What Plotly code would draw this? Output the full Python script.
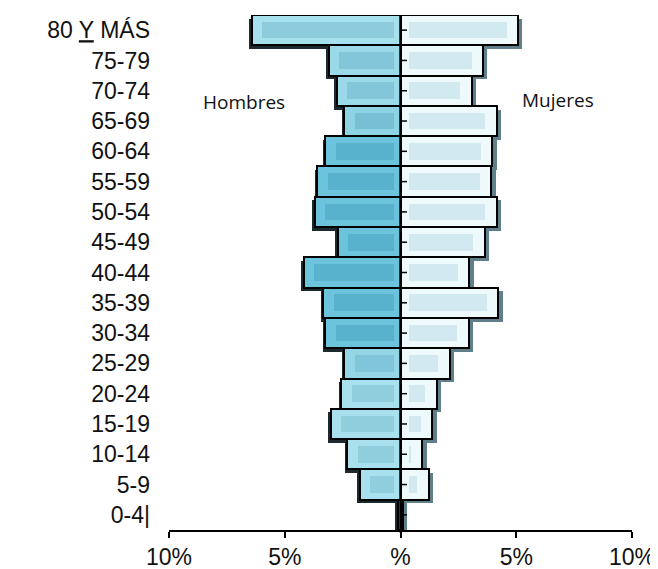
import plotly.graph_objects as go

# Data (bottom to top)
grupos = ["0-4|", "5-9", "10-14", "15-19", "20-24", "25-29", "30-34", "35-39",
          "40-44", "45-49", "50-54", "55-59", "60-64", "65-69", "70-74", "75-79", "80 Y MÁS"]
etiquetas = ["0-4|", "5-9", "10-14", "15-19", "20-24", "25-29", "30-34", "35-39",
             "40-44", "45-49", "50-54", "55-59", "60-64", "65-69", "70-74", "75-79",
             "80 <span style='text-decoration:underline'>Y</span> MÁS"]
hombres = [0.1, 1.77, 2.29, 3.02, 2.55, 2.42, 3.24, 3.33, 4.19, 2.72, 3.71, 3.59, 3.24, 2.42, 2.74, 3.09, 6.43]
mujeres = [0.1, 1.21, 0.95, 1.38, 1.56, 2.12, 2.94, 4.23, 2.98, 3.63, 4.15, 3.93, 3.97, 4.15, 3.09, 3.57, 5.08]
x_ticks = [-10, -5, 0, 5, 10]
x_ticktext = ["10%", "5%", "%", "5%", "10%"]

# Styles
light = ("#a8e0ed", "#90cddd")
mid = ("#94d6e6", "#80c5d9")
dark = ("#6cc3dc", "#59b2cd")
left_style = [light, light, light, light, light, mid, dark, dark, dark, dark, dark, dark, dark,
              ("#8ed3e4", "#78bfd5"), ("#9ad9e8", "#84c6d9"), ("#9ad9e8", "#84c6d9"), ("#a6e0ec", "#8ecbdc")]
left_edge = [s[0] for s in left_style]
left_inner = [s[1] for s in left_style]

fig = go.Figure()

# shadows
fig.add_trace(go.Bar(y=grupos, x=[-(v + 0.12) for v in hombres], orientation="h",
                     width=1, offset=-0.62, marker=dict(color="#1c2a30", line=dict(width=0)),
                     hoverinfo="skip", showlegend=False))
fig.add_trace(go.Bar(y=grupos, x=[v + 0.18 for v in mujeres], orientation="h",
                     width=1, offset=-0.62, marker=dict(color="#5f7f8b", line=dict(width=0)),
                     hoverinfo="skip", showlegend=False))

# main bars
fig.add_trace(go.Bar(y=grupos, x=[-v for v in hombres], orientation="h", width=1,
                     marker=dict(color=left_edge, line=dict(color="black", width=2)),
                     name="Hombres", hoverinfo="skip", showlegend=False))
fig.add_trace(go.Bar(y=grupos, x=mujeres, orientation="h", width=1,
                     marker=dict(color="#eef9fc", line=dict(color="black", width=2)),
                     name="Mujeres", hoverinfo="skip", showlegend=False))

# inner glow
fig.add_trace(go.Bar(y=grupos, x=[-max(v - 0.75, 0) for v in hombres], base=-0.3, orientation="h",
                     width=0.55, marker=dict(color=left_inner, line=dict(width=0)),
                     hoverinfo="skip", showlegend=False))
fig.add_trace(go.Bar(y=grupos, x=[max(v - 0.85, 0) for v in mujeres], base=0.35, orientation="h",
                     width=0.55, marker=dict(color="#d3e9f0", line=dict(width=0)),
                     hoverinfo="skip", showlegend=False))

shapes = [dict(type="line", xref="x", yref="paper", x0=0, x1=0, y0=-0.005, y1=1,
               line=dict(color="black", width=2.5), layer="above")]
for i, _ in enumerate(grupos):
    shapes.append(dict(type="line", xref="x", yref="y", x0=0, x1=0.28, y0=i, y1=i,
                       line=dict(color="black", width=1.5), layer="above"))

fig.update_layout(
    width=650, height=561,
    margin=dict(l=161, r=26, t=7, b=39, autoexpand=False),
    paper_bgcolor="white", plot_bgcolor="white",
    barmode="overlay", bargap=0,
    shapes=shapes,
    annotations=[
        dict(text="Hombres", x=-6.75, y=13.62, xref="x", yref="y", showarrow=False,
             font=dict(family="Open Sans", size=19, color="#111")),
        dict(text="Mujeres", x=6.8, y=13.69, xref="x", yref="y", showarrow=False,
             font=dict(family="Open Sans", size=19, color="#111")),
    ],
    xaxis=dict(range=[-10, 10], tickvals=x_ticks, ticktext=x_ticktext, showgrid=False,
               zeroline=False, showline=True, linecolor="black", linewidth=1.5,
               ticks="outside", ticklen=6, tickwidth=1.5, tickcolor="black", automargin=False,
               tickfont=dict(family="Liberation Sans", size=23, color="#111")),
    yaxis=dict(categoryorder="array", categoryarray=grupos, tickvals=grupos, ticktext=etiquetas,
               range=[-0.5, len(grupos) - 0.5], automargin=False,
               showgrid=False, zeroline=False, showline=False, ticks="",
               ticklabelstandoff=18,
               tickfont=dict(family="Liberation Sans", size=23, color="#111")),
)

fig.write_html("out.html")
